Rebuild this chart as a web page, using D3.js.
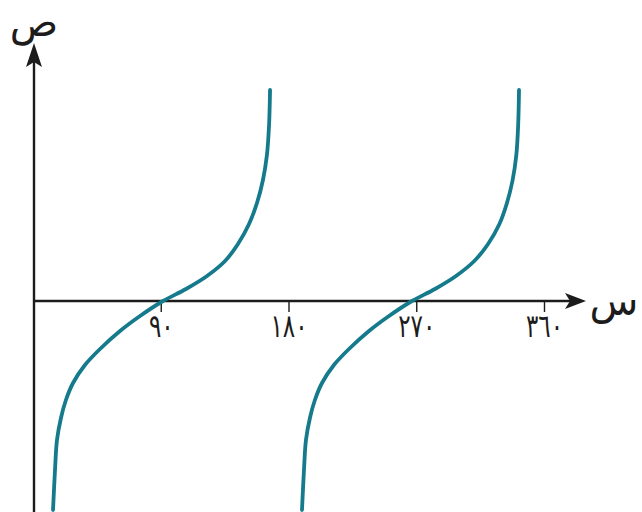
<!DOCTYPE html>
<html>
<head>
<meta charset="utf-8">
<script src="https://cdn.jsdelivr.net/npm/d3@7"></script>
<style>
  html, body { margin: 0; padding: 0; background: #fff; }
  #chart { width: 642px; height: 512px; }
</style>
</head>
<body>
<div id="chart"></div>
<script>
// values (degrees, y units)
const branch1 = [
  [14.1, -5.225], [15.5, -4.225], [16.9, -3.475], [19.7, -2.925], [23.2, -2.475],
  [28.2, -2.05], [36.6, -1.6], [47.2, -1.2], [61.3, -0.75], [75.4, -0.375],
  [91.6, 0], [107.8, 0.3], [122.6, 0.625], [135.3, 1.0], [144.4, 1.425],
  [152.2, 1.925], [157.8, 2.45], [162.0, 3.025], [164.8, 3.65], [166.3, 4.4],
  [167.0, 5.275]
];
const branch2 = [
  [189.5, -5.225], [190.9, -4.225], [192.3, -3.475], [195.1, -2.925], [198.6, -2.475],
  [203.6, -2.05], [212.0, -1.6], [222.6, -1.2], [236.7, -0.75], [250.8, -0.375],
  [267.0, 0], [283.2, 0.3], [298.0, 0.625], [310.9, 1.0], [320.6, 1.425],
  [328.6, 1.925], [333.9, 2.45], [337.9, 3.025], [340.5, 3.65], [341.8, 4.4],
  [342.4, 5.275]
];
const tickValues = [90, 180, 270, 360];
const tickLabels = ["٩٠", "١٨٠", "٢٧٠", "٣٦٠"];
const xLabel = "س";
const yLabel = "ص";

function drawGraph(containerId) {
  const width = 642, height = 512;
  const ink = "#1c1c1c";
  const curveColor = "#157a8c";

  const svg = d3.select(`#${containerId}`)
    .append("svg")
    .attr("width", width)
    .attr("height", height);

  const x = d3.scaleLinear().domain([0, 360]).range([33, 544]);
  const y = d3.scaleLinear().domain([-5.275, 6.45]).range([512, 43]);

  const x0 = x(0) + 1;
  const y0 = y(0);

  // x axis line + arrow
  svg.append("line")
    .attr("x1", x0).attr("y1", y0)
    .attr("x2", 574).attr("y2", y0)
    .style("stroke", ink)
    .style("stroke-width", 2.4);
  svg.append("path")
    .attr("d", `M586,${y0} L565,${y0 - 8} L570,${y0} L565,${y0 + 8} Z`)
    .style("fill", ink);

  // y axis line + arrow
  svg.append("line")
    .attr("x1", x0).attr("y1", height)
    .attr("x2", x0).attr("y2", 58)
    .style("stroke", ink)
    .style("stroke-width", 2.4);
  svg.append("path")
    .attr("d", `M${x0},43 L${x0 - 8},67 L${x0},62 L${x0 + 8},67 Z`)
    .style("fill", ink);

  // ticks
  svg.append("g")
    .attr("transform", `translate(0, ${y0})`)
    .call(d3.axisBottom(x).tickValues(tickValues)
      .tickFormat((d, i) => tickLabels[i])
      .tickSize(11).tickPadding(2))
    .call(g => g.select(".domain").remove())
    .call(g => g.selectAll("line").style("stroke", ink).style("stroke-width", 1.4))
    .call(g => g.selectAll("text")
      .attr("transform", "scale(0.72,1)")
      .style("fill", ink)
      .style("font-family", "'DejaVu Sans', sans-serif")
      .style("font-size", "32px"));

  // axis letters
  svg.append("text")
    .attr("x", 614).attr("y", 315)
    .attr("text-anchor", "middle")
    .style("font-family", "'DejaVu Sans', sans-serif")
    .style("font-size", "40px")
    .style("fill", ink)
    .text(xLabel);
  svg.append("text")
    .attr("x", 34).attr("y", 36)
    .attr("text-anchor", "middle")
    .style("font-family", "'DejaVu Sans', sans-serif")
    .style("font-size", "40px")
    .style("fill", ink)
    .text(yLabel);

  const line = d3.line()
    .x(d => x(d[0]))
    .y(d => y(d[1]))
    .curve(d3.curveCatmullRom.alpha(0.5));

  svg.selectAll("path.branch")
    .data([branch1, branch2])
    .join("path")
    .attr("class", "branch")
    .attr("d", line)
    .style("fill", "none")
    .style("stroke", curveColor)
    .style("stroke-width", 3.8)
    .style("stroke-linecap", "round");
}

drawGraph("chart");
</script>
</body>
</html>
